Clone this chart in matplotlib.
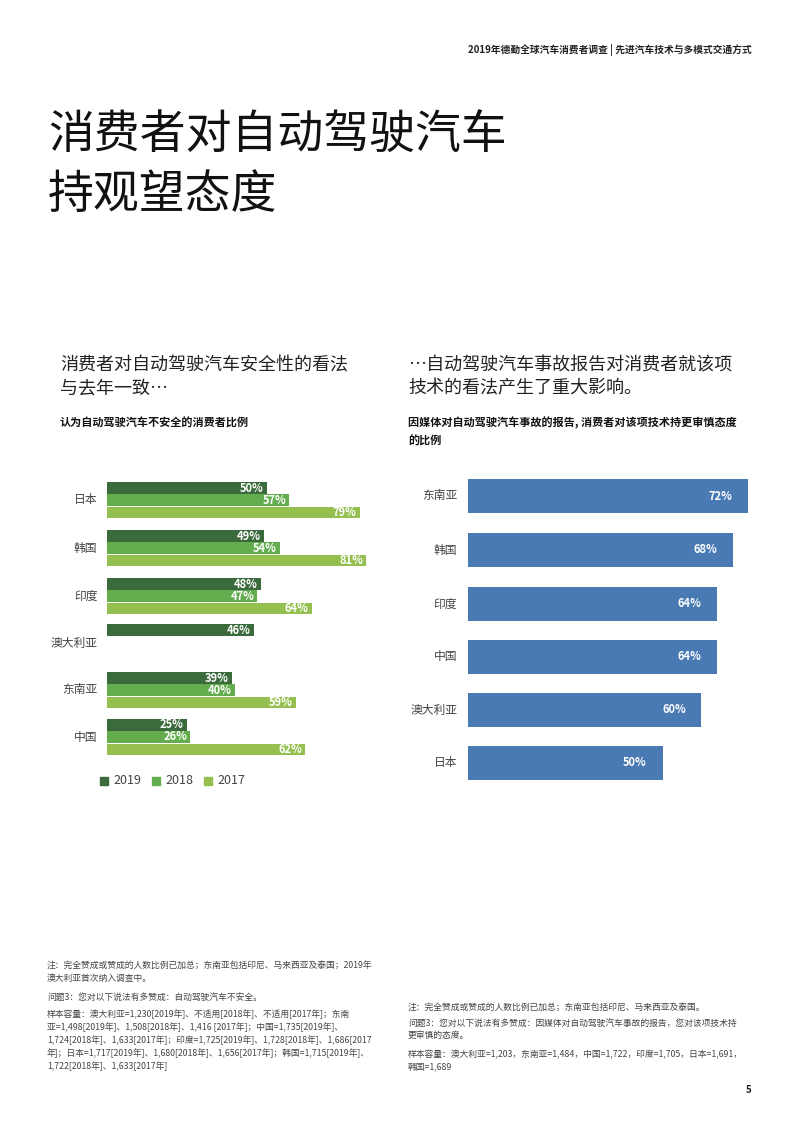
import matplotlib
matplotlib.use("Agg")
import matplotlib.pyplot as plt

plt.rcParams["font.family"] = ["Noto Sans CJK SC", "DejaVu Sans"]

left_cats = ["日本", "韩国", "印度", "澳大利亚", "东南亚", "中国"]
v2019 = [50, 49, 48, 46, 39, 25]
v2018 = [57, 54, 47, None, 40, 26]
v2017 = [79, 81, 64, None, 59, 62]
years = ["2019", "2018", "2017"]

right_cats = ["东南亚", "韩国", "印度", "中国", "澳大利亚", "日本"]
right_vals = [72, 68, 64, 64, 60, 50]

C19, C18, C17 = "#3b6a3c", "#63ad4f", "#95c04f"
BLUE = "#4a7ab3"

W, H = 800, 1132
fig = plt.figure(figsize=(8, 11.32), dpi=100)

def fx(px): return px / W
def fy(py): return 1 - py / H

# header
fig.text(fx(752), fy(50), "2019年德勤全球汽车消费者调查 | 先进汽车技术与多模式交通方式",
         ha="right", va="center", fontsize=7, fontweight="bold", color="#222")
fig.text(fx(48), fy(165), "消费者对自动驾驶汽车\n持观望态度", ha="left", va="center",
         fontsize=33, color="#111", linespacing=1.3, fontweight="light")

fig.text(fx(60), fy(377), "消费者对自动驾驶汽车安全性的看法\n与去年一致…", ha="left", va="center",
         fontsize=13, color="#222", linespacing=1.4, fontweight="light")
fig.text(fx(408), fy(377), "…自动驾驶汽车事故报告对消费者就该项\n技术的看法产生了重大影响。", ha="left", va="center",
         fontsize=13, color="#222", linespacing=1.4, fontweight="light")
fig.text(fx(60), fy(423), "认为自动驾驶汽车不安全的消费者比例", ha="left", va="center",
         fontsize=8, fontweight="bold", color="#111")
fig.text(fx(408), fy(432), "因媒体对自动驾驶汽车事故的报告, 消费者对该项技术持更审慎态度\n的比例", ha="left", va="center",
         fontsize=8, fontweight="bold", color="#111", linespacing=1.6)

axL = fig.add_axes([fx(107), fy(760), fx(320), (760 - 478) / H])
axL.set_xlim(0, 100)
axL.set_ylim(760, 478)
centers = [500, 548, 596, 643, 690, 737]
offs = [-12, 0, 12.5]
for i, c in enumerate(centers):
    for vals, col, off in ((v2019, C19, offs[0]), (v2018, C18, offs[1]), (v2017, C17, offs[2])):
        v = vals[i]
        if v is None:
            continue
        y = c + off if left_cats[i] != "澳大利亚" else 630
        axL.barh(y, v, height=11.5, color=col)
        axL.text(v - 1, y, f"{v}%", ha="right", va="center", color="white",
                 fontsize=8, fontweight="bold")
    axL.text(-3, c, left_cats[i], ha="right", va="center", fontsize=8.5, color="#444")
axL.axis("off")

for k, (lab, col) in enumerate(zip(years, (C19, C18, C17))):
    x0 = 100 + k * 52
    fig.patches.append(plt.Rectangle((fx(x0), fy(785)), fx(8), 8 / H, color=col,
                                     transform=fig.transFigure))
    fig.text(fx(x0 + 13), fy(780), lab, ha="left", va="center", fontsize=9, color="#444")

axR = fig.add_axes([fx(468), fy(790), fx(389), (790 - 470) / H])
axR.set_xlim(0, 100)
axR.set_ylim(790, 470)
rc = [496, 550, 604, 657, 710, 763]
for c, v, lab in zip(rc, right_vals, right_cats):
    axR.barh(c, v, height=34, color=BLUE)
    axR.text(v - 4, c, f"{v}%", ha="right", va="center", color="white",
             fontsize=8, fontweight="bold")
    axR.text(-2.8, c, lab, ha="right", va="center", fontsize=8.5, color="#444")
axR.axis("off")

noteL = ("注：完全赞成或赞成的人数比例已加总；东南亚包括印尼、马来西亚及泰国；2019年\n"
         "澳大利亚首次纳入调查中。")
noteL2 = "问题3：您对以下说法有多赞成：自动驾驶汽车不安全。"
noteL3 = ("样本容量：澳大利亚=1,230[2019年]、不适用[2018年]、不适用[2017年]；东南\n"
          "亚=1,498[2019年]、1,508[2018年]、1,416 [2017年]；中国=1,735[2019年]、\n"
          "1,724[2018年]、1,633[2017年]；印度=1,725[2019年]、1,728[2018年]、1,686[2017\n"
          "年]；日本=1,717[2019年]、1,680[2018年]、1,656[2017年]；韩国=1,715[2019年]、\n"
          "1,722[2018年]、1,633[2017年]")
ns = dict(ha="left", va="top", fontsize=6.3, color="#444", linespacing=1.45)
fig.text(fx(47), fy(962), noteL, **ns)
fig.text(fx(47), fy(993), noteL2, **ns)
fig.text(fx(47), fy(1009), noteL3, **ns)

fig.text(fx(408), fy(1003), "注：完全赞成或赞成的人数比例已加总；东南亚包括印尼、马来西亚及泰国。", **ns)
fig.text(fx(408), fy(1019), "问题3：您对以下说法有多赞成：因媒体对自动驾驶汽车事故的报告，您对该项技术持\n更审慎的态度。", **ns)
fig.text(fx(408), fy(1050), "样本容量：澳大利亚=1,203，东南亚=1,484，中国=1,722，印度=1,705，日本=1,691，\n韩国=1,689", **ns)

fig.text(fx(752), fy(1090), "5", ha="right", va="center", fontsize=7, fontweight="bold", color="#222")

fig.savefig("out.png", dpi=100, facecolor="white")
